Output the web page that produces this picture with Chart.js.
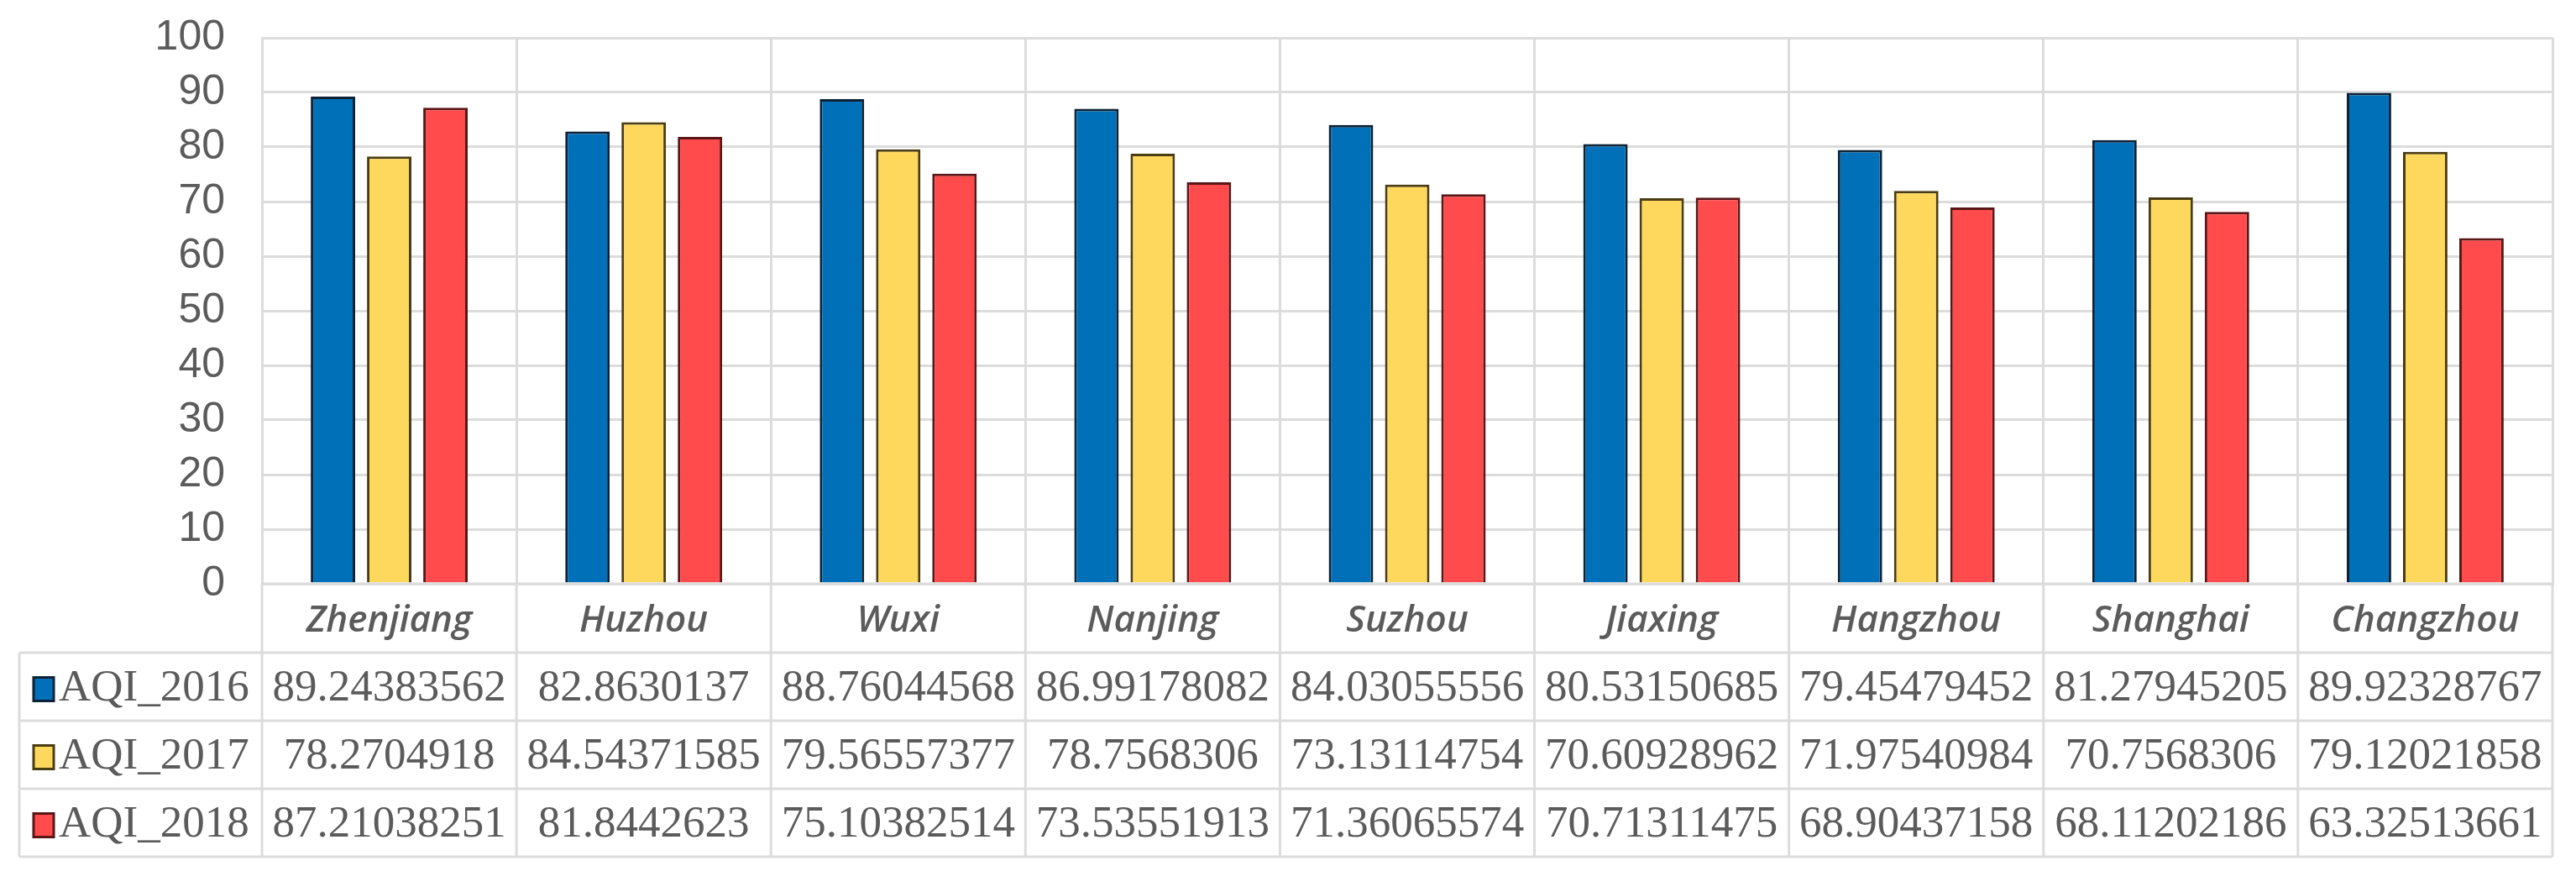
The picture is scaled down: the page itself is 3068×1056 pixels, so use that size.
<!DOCTYPE html>
<html>
<head>
<meta charset="utf-8">
<script src="https://cdn.jsdelivr.net/npm/chart.js@4/dist/chart.umd.min.js"></script>
<style>
html,body{margin:0;padding:0;background:#fff;}
#wrap{width:3068px;height:1056px;}
</style>
</head>
<body>
<div id="wrap"><canvas id="c" width="3068" height="1056"></canvas></div>
<script>
const categories = ["Zhenjiang","Huzhou","Wuxi","Nanjing","Suzhou","Jiaxing","Hangzhou","Shanghai","Changzhou"];
const seriesNames = ["AQI_2016","AQI_2017","AQI_2018"];
const aqi2016 = [89.24383562, 82.8630137, 88.76044568, 86.99178082, 84.03055556, 80.53150685, 79.45479452, 81.27945205, 89.92328767];
const aqi2017 = [78.2704918, 84.54371585, 79.56557377, 78.7568306, 73.13114754, 70.60928962, 71.97540984, 70.7568306, 79.12021858];
const aqi2018 = [87.21038251, 81.8442623, 75.10382514, 73.53551913, 71.36065574, 70.71311475, 68.90437158, 68.11202186, 63.32513661];
const yTicks = [0,10,20,30,40,50,60,70,80,90,100];

const fills = ["#0070B8","#FDD85D","#FF4B4B"];
const borders = ["#0d2236","#4a3d14","#5a1616"];
const allSeries = [aqi2016, aqi2017, aqi2018];

const GRID = "#dcdcdc";
const TEXT = "#5b5b5b";
const tableLeft = 23;
const plotTop = 45;
const rowLines = [695, 777, 858, 939, 1020];

const fixTop = {
  id: 'fixTop',
  afterLayout(chart) {
    const a = chart.chartArea;
    const y = chart.scales.y;
    a.top = plotTop; a.height = a.bottom - plotTop;
    y.top = plotTop; y.height = y.bottom - plotTop;
    y.configure();
  }
};

const tablePlugin = {
  id: 'dataTable',
  afterDraw(chart) {
    const ctx = chart.ctx;
    const x = chart.scales.x;
    const area = chart.chartArea;
    const n = categories.length;
    const cw = (area.right - area.left) / n;
    ctx.save();
    ctx.strokeStyle = GRID;
    ctx.lineWidth = 3;
    ctx.beginPath();
    ctx.moveTo(area.left, area.bottom); ctx.lineTo(area.right, area.bottom);
    for (let i = 1; i < rowLines.length; i++) {
      ctx.moveTo(tableLeft, rowLines[i]); ctx.lineTo(area.right, rowLines[i]);
    }
    for (let i = 0; i <= n; i++) {
      const px = area.left + i * cw;
      ctx.moveTo(px, area.bottom); ctx.lineTo(px, rowLines[4]);
    }
    ctx.moveTo(tableLeft, rowLines[1]); ctx.lineTo(tableLeft, rowLines[4]);
    ctx.stroke();

    ctx.fillStyle = TEXT;
    ctx.textAlign = 'center';
    ctx.textBaseline = 'middle';
    ctx.font = 'italic 600 44px "Open Sans", "Liberation Sans", sans-serif';
    categories.forEach((c, i) => {
      const px = x.getPixelForValue(i);
      ctx.fillText(c, px, (area.bottom + rowLines[1]) / 2 + 3);
    });

    ctx.font = '53px "Liberation Serif", "DejaVu Serif", serif';
    for (let r = 0; r < 3; r++) {
      const cy = (rowLines[r + 1] + rowLines[r + 2]) / 2 + 3;
      ctx.fillStyle = fills[r];
      ctx.fillRect(40, cy - 14, 24, 28);
      ctx.strokeStyle = borders[r];
      ctx.lineWidth = 3;
      ctx.strokeRect(40, cy - 14, 24, 28);
      ctx.fillStyle = TEXT;
      ctx.textAlign = 'left';
      ctx.fillText(seriesNames[r], 70, cy);
      ctx.textAlign = 'center';
      allSeries[r].forEach((v, i) => {
        ctx.fillText(String(v), x.getPixelForValue(i), cy);
      });
    }
    ctx.restore();
  }
};

new Chart(document.getElementById('c'), {
  type: 'bar',
  data: {
    labels: categories,
    datasets: seriesNames.map((name, i) => ({
      label: name,
      data: allSeries[i],
      backgroundColor: fills[i],
      borderColor: borders[i],
      borderWidth: 3,
      categoryPercentage: 0.663,
      barPercentage: 0.79
    }))
  },
  options: {
    responsive: false,
    animation: false,
    layout: { padding: { top: 18, right: 28, bottom: 361, left: 0 } },
    plugins: { legend: { display: false }, tooltip: { enabled: false } },
    scales: {
      x: {
        offset: true,
        grid: { color: GRID, lineWidth: 3, offset: true, drawTicks: false },
        border: { display: true, color: GRID, width: 3 },
        ticks: { display: false }
      },
      y: {
        min: 0, max: 100,
        afterFit(s) { s.width = 312; },
        afterBuildTicks(s) { s.ticks = yTicks.map(v => ({ value: v })); },
        grid: { color: GRID, lineWidth: 3, drawTicks: false },
        border: { display: true, color: GRID, width: 3 },
        ticks: {
          color: TEXT,
          padding: 44,
          font: { family: '"Liberation Sans", Arial, sans-serif', size: 50 }
        }
      }
    }
  },
  plugins: [fixTop, tablePlugin]
});
</script>
</body>
</html>
